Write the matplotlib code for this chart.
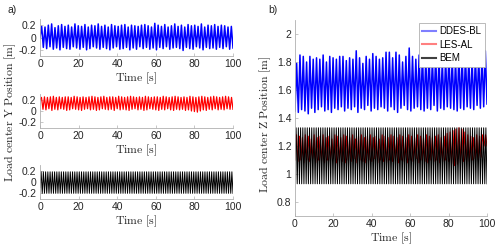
#!/usr/bin/env python3
import numpy as np
import matplotlib
matplotlib.use("Agg")
import matplotlib.pyplot as plt
from matplotlib.lines import Line2D

plt.rcParams["font.family"] = ["Liberation Sans", "DejaVu Sans"]
plt.rcParams["mathtext.fontset"] = "cm"

# peaks / troughs (alternating extremes over 0-100 s)
ddes_y_peaks = [0.18, 0.17, 0.2, 0.22, 0.16, 0.19, 0.21, 0.18, 0.2, 0.17, 0.22, 0.19, 0.18, 0.21, 0.17, 0.2, 0.19,
                0.22, 0.18, 0.2, 0.17, 0.21, 0.19, 0.18, 0.2, 0.21, 0.17, 0.2, 0.19, 0.18, 0.2, 0.21, 0.19, 0.17,
                0.23, 0.2, 0.18, 0.21, 0.17, 0.19, 0.22, 0.18, 0.2, 0.17, 0.21, 0.19, 0.2, 0.18, 0.22, 0.17, 0.2,
                0.19, 0.21, 0.18, 0.2, 0.19, 0.17, 0.18]
ddes_y_troughs = [-0.16, -0.18, -0.15, -0.19, -0.17, -0.2, -0.16, -0.18, -0.19, -0.15, -0.17, -0.19, -0.16, -0.2,
                  -0.18, -0.15, -0.17, -0.19, -0.16, -0.18, -0.2, -0.17, -0.15, -0.19, -0.18, -0.16, -0.2, -0.17,
                  -0.19, -0.15, -0.18, -0.16, -0.19, -0.17, -0.2, -0.16, -0.18, -0.15, -0.19, -0.17, -0.16, -0.18,
                  -0.21, -0.16, -0.18, -0.19, -0.15, -0.17, -0.2, -0.16, -0.18, -0.17, -0.19, -0.16, -0.18, -0.15,
                  -0.19, -0.17]
les_y_peaks = [0.24, 0.25, 0.24, 0.25, 0.26, 0.24, 0.25, 0.24, 0.25, 0.25, 0.24, 0.26, 0.25, 0.24, 0.25, 0.24, 0.25,
               0.26, 0.25, 0.24, 0.25, 0.26, 0.24, 0.25, 0.25, 0.24, 0.26, 0.25, 0.24, 0.25, 0.26, 0.25, 0.24, 0.25,
               0.24, 0.26, 0.25, 0.24, 0.25, 0.25, 0.24, 0.26, 0.25, 0.24, 0.25, 0.26, 0.25, 0.24, 0.25, 0.24, 0.26,
               0.25, 0.24, 0.25, 0.26, 0.25, 0.24, 0.25, 0.26, 0.25, 0.24, 0.25, 0.26, 0.25, 0.24]
les_y_troughs = [0.03, 0.02, 0.04, 0.01, 0.03, 0.02, 0.04, 0.03, 0.01, 0.02, 0.04, 0.03, 0.02, 0.01, 0.03, 0.04, 0.02,
                 0.03, 0.01, 0.02, 0.04, 0.03, 0.02, 0.03, 0.01, 0.04, 0.02, 0.03, 0.02, 0.01, 0.03, 0.04, 0.02, 0.03,
                 0.01, 0.02, 0.04, 0.03, 0.02, 0.01, 0.03, 0.02, 0.04, 0.02, 0.01, 0.03, 0.02, 0.03, 0.01, 0.02,
                 0.0, -0.01, -0.02, 0.0, 0.02, 0.01, 0.03, 0.02, 0.04, 0.02, 0.03, 0.02, 0.04, 0.03, 0.03]
bem_y_peaks = [0.18] * 86
bem_y_troughs = [-0.2] * 86

ddes_z_peaks = [1.79, 1.85, 1.84, 1.8, 1.84, 1.82, 1.83, 1.82, 1.85, 1.8, 1.84, 1.83, 1.82, 1.84, 1.84, 1.81, 1.83,
                1.82, 1.88, 1.83, 1.79, 1.84, 1.82, 1.86, 1.84, 1.82, 1.83, 1.87, 1.87, 1.83, 1.87, 1.85, 1.8, 1.84,
                1.9, 1.84, 1.82, 1.85, 1.86, 1.83, 1.87, 1.82, 1.85, 1.84, 1.81, 1.83, 1.86, 1.83, 1.82, 1.86, 1.84,
                1.85, 1.83, 1.82, 1.84, 1.83, 1.85, 1.88]
ddes_z_troughs = [1.44, 1.46, 1.45, 1.43, 1.47, 1.44, 1.46, 1.48, 1.45, 1.46, 1.44, 1.47, 1.46, 1.48, 1.45, 1.47,
                  1.46, 1.48, 1.44, 1.47, 1.46, 1.49, 1.45, 1.47, 1.46, 1.48, 1.47, 1.45, 1.48, 1.46, 1.44, 1.47,
                  1.49, 1.46, 1.45, 1.47, 1.48, 1.46, 1.45, 1.47, 1.46, 1.49, 1.45, 1.47, 1.46, 1.48, 1.47, 1.46,
                  1.45, 1.47, 1.46, 1.48, 1.47, 1.46, 1.49, 1.47, 1.48, 1.5]
les_z_peaks = [1.28, 1.27, 1.26, 1.28, 1.27, 1.25, 1.28, 1.26, 1.27, 1.28, 1.26, 1.27, 1.25, 1.28, 1.27, 1.26, 1.28,
               1.27, 1.26, 1.28, 1.25, 1.27, 1.28, 1.26, 1.27, 1.28, 1.26, 1.27, 1.25, 1.28, 1.27, 1.26, 1.28, 1.27,
               1.26, 1.28, 1.27, 1.26, 1.28, 1.27, 1.26, 1.28, 1.27, 1.26, 1.28, 1.27, 1.26, 1.27, 1.28, 1.26,
               1.27, 1.29, 1.3, 1.31, 1.32, 1.33, 1.32, 1.3, 1.28, 1.27, 1.26, 1.28, 1.27, 1.28, 1.28]
les_z_troughs = [1.09, 1.1, 1.08, 1.1, 1.09, 1.11, 1.08, 1.1, 1.09, 1.08, 1.1, 1.09, 1.11, 1.08, 1.1, 1.09, 1.08,
                 1.1, 1.09, 1.11, 1.08, 1.1, 1.09, 1.08, 1.1, 1.09, 1.11, 1.08, 1.1, 1.09, 1.08, 1.1, 1.09, 1.11,
                 1.08, 1.1, 1.09, 1.08, 1.1, 1.09, 1.11, 1.08, 1.1, 1.09, 1.08, 1.1, 1.09, 1.1, 1.08, 1.09,
                 1.1, 1.09, 1.07, 1.06, 1.07, 1.08, 1.09, 1.1, 1.09, 1.1, 1.11, 1.1, 1.12, 1.2, 1.2]
bem_z_peaks = [1.33] * 86
bem_z_troughs = [0.93] * 86

legend_labels = ["DDES-BL", "LES-AL", "BEM"]
time_label = r"$\mathrm{Time\ [s]}$"


def series(peaks, troughs, start):
    vals = [start]
    for p, q in zip(peaks, troughs):
        vals += [p, q]
    t = np.linspace(0, 100, len(vals))
    return t, np.array(vals)


W, H = 500, 252
fig = plt.figure(figsize=(5, 2.52), dpi=100)


def box(x0, y0, x1, y1):
    return [x0 / W, 1 - y1 / H, (x1 - x0) / W, (y1 - y0) / H]


def style(ax):
    for s in ["top", "right"]:
        ax.spines[s].set_visible(False)
    for s in ["left", "bottom"]:
        ax.spines[s].set_color("#b0b0b0")
        ax.spines[s].set_linewidth(0.6)
    ax.tick_params(direction="in", length=2, width=0.5, color="#b0b0b0",
                   labelsize=7.5, labelcolor="#262626", pad=2.5)
    ax.set_xlim(0, 100)
    ax.set_xticks([0, 20, 40, 60, 80, 100])


ax1 = fig.add_axes(box(40, 19, 233, 56))
ax2 = fig.add_axes(box(40, 94, 233, 128))
ax3 = fig.add_axes(box(40, 165, 233, 199))
axb = fig.add_axes(box(295, 20, 487, 216))

for ax, (pk, tr, st, col, lw) in zip(
        [ax1, ax2, ax3],
        [(ddes_y_peaks, ddes_y_troughs, 0.0, "#0000ff", 1.1),
         (les_y_peaks, les_y_troughs, 0.2, "#ff0000", 0.9),
         (bem_y_peaks, bem_y_troughs, -0.1, "#000000", 0.7)]):
    t, v = series(pk, tr, st)
    ax.plot(t, v, color=col, lw=lw)
    style(ax)
    ax.set_ylim(-0.3, 0.3)
    ax.set_yticks([-0.2, 0, 0.2])
    ax.set_yticklabels(["-0.2", "0", "0.2"])
    ax.set_xlabel(time_label, fontsize=8.5, color="#262626", labelpad=1)

t, v = series(ddes_z_peaks, ddes_z_troughs, 1.45)
axb.plot(t, v, color="#0000ff", lw=1.1)
t, v = series(les_z_peaks, les_z_troughs, 1.1)
axb.plot(t, v, color="#ff0000", lw=0.8)
t, v = series(bem_z_peaks, bem_z_troughs, 1.1)
axb.plot(t, v, color="#000000", lw=0.7)
style(axb)
axb.set_ylim(0.7, 2.1)
axb.set_yticks([0.8, 1.0, 1.2, 1.4, 1.6, 1.8, 2.0])
axb.set_yticklabels(["0.8", "1", "1.2", "1.4", "1.6", "1.8", "2"])
axb.set_xlabel(time_label, fontsize=8.5, color="#262626", labelpad=1)

fig.text(10 / W, 1 - 112 / H, r"$\mathrm{Load\ center\ Y\ Position\ [m]}$", rotation=90,
         ha="center", va="center", fontsize=8.5, color="#262626")
fig.text(265 / W, 1 - 124 / H, r"$\mathrm{Load\ center\ Z\ Position\ [m]}$", rotation=90,
         ha="center", va="center", fontsize=8.5, color="#262626")
fig.text(7 / W, 1 - 10 / H, "a)", ha="left", va="center", fontsize=7.5, color="#262626")
fig.text(268 / W, 1 - 10 / H, "b)", ha="left", va="center", fontsize=7.5, color="#262626")

handles = [Line2D([], [], color="#7f7fff", lw=1.5),
           Line2D([], [], color="#ff8080", lw=1.5),
           Line2D([], [], color="#404040", lw=1.5)]
leg = axb.legend(handles, legend_labels, loc="upper right", bbox_to_anchor=(485 / W, 1 - 23 / H),
                 bbox_transform=fig.transFigure, borderaxespad=0, fontsize=7, fancybox=False,
                 framealpha=1, edgecolor="#b0b0b0", handlelength=1.4, handletextpad=0.4,
                 borderpad=0.35, labelspacing=0.35)
leg.get_frame().set_linewidth(0.6)

fig.savefig("out.png", dpi=100)
